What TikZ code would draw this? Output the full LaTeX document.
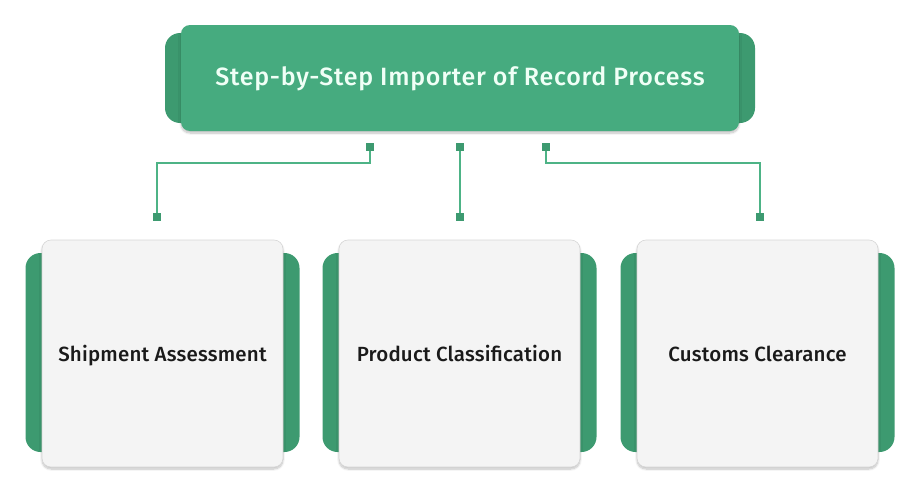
\documentclass[tikz,border=0pt]{standalone}
\usepackage{fontspec}
\setmainfont{Fira Sans}
\newfontfamily\medfont{Fira Sans Medium}
\newfontfamily\titlefont[LetterSpace=3]{Fira Sans Medium}
\newfontfamily\cardfont[LetterSpace=1]{Fira Sans Medium}
\usetikzlibrary{shadows.blur}
\definecolor{grn}{HTML}{46AB7F}
\definecolor{grndark}{HTML}{3D9A70}
\definecolor{cardfill}{HTML}{F4F4F4}
\definecolor{cardline}{HTML}{D6D6D6}
\definecolor{lnk}{HTML}{4DB386}
\definecolor{titletext}{HTML}{F0FFF6}
\definecolor{cardtextcol}{HTML}{1A1A1A}
\begin{document}
\begin{tikzpicture}[x=1pt,y=-1pt,
  tab/.style={fill=grndark, rounded corners=15pt},
  headbox/.style={fill=grn, rounded corners=9pt, blur shadow={shadow blur steps=8, shadow xshift=0pt, shadow yshift=-2pt, shadow opacity=25}},
  card/.style={fill=cardfill, draw=cardline, line width=0.6pt, rounded corners=9pt, blur shadow={shadow blur steps=8, shadow xshift=0pt, shadow yshift=-2pt, shadow opacity=25}},
  link/.style={draw=lnk, line width=1.6pt},
  dot/.style={fill=grndark, minimum size=7.5pt, inner sep=0pt, draw=none, rectangle},
  cardtext/.style={font=\cardfont\fontsize{20.5}{24}\selectfont, text=cardtextcol, anchor=base}
]
\useasboundingbox (0,0) rectangle (919,498);
% header
\fill[tab] (165,33) rectangle (755,123);
\path[headbox] (181,25) rectangle (739,131);
\node[font=\titlefont\fontsize{25}{29}\selectfont, text=titletext, anchor=base] (title) at (460,85) {Step-by-Step Importer of Record Process};
% cards
\foreach \i/\cx in {1/162.5, 2/459.5, 3/757.5} {
  \fill[tab] (\cx-137,253) rectangle (\cx+137,452);
  \path[card] (\cx-120.5,240) rectangle (\cx+120.5,467);
}
\node[cardtext] (c1) at (162.5,361) {Shipment Assessment};
\node[cardtext] (c2) at (459.5,361) {Product Classification};
\node[cardtext] (c3) at (757.5,361) {Customs Clearance};
% connector anchors
\node[dot] (t1) at (370,147) {};
\node[dot] (t2) at (460,147) {};
\node[dot] (t3) at (546,147) {};
\node[dot] (b1) at (157,217) {};
\node[dot] (b2) at (460,217) {};
\node[dot] (b3) at (760,217) {};
\draw[link] (t1.center) |- (157,163) -- (b1.center);
\draw[link] (t2.center) -- (b2.center);
\draw[link] (t3.center) |- (760,163) -- (b3.center);
\node[dot] at (t1) {};\node[dot] at (t2) {};\node[dot] at (t3) {};
\node[dot] at (b1) {};\node[dot] at (b2) {};\node[dot] at (b3) {};
\end{tikzpicture}
\end{document}
